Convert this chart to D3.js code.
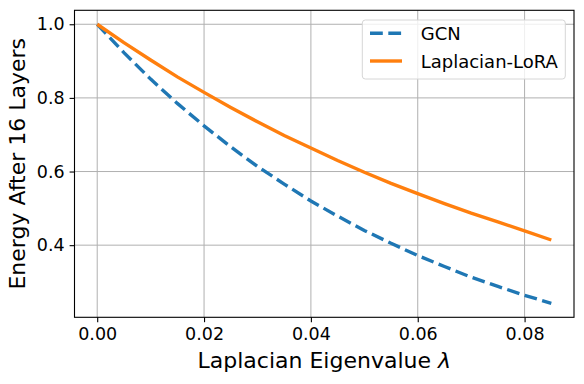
<!DOCTYPE html>
<html>
<head>
<meta charset="utf-8">
<script src="https://cdn.jsdelivr.net/npm/d3@7"></script>
<style>
  body { margin: 0; background: #fff; }
  svg { font-family: "DejaVu Sans", sans-serif; }
</style>
</head>
<body>
<div id="chart"></div>
<script>
// eigenvalue samples
const lambdas = [0, 0.005, 0.01, 0.015, 0.02, 0.025, 0.03, 0.035, 0.04, 0.045, 0.05, 0.055, 0.06, 0.065, 0.07, 0.075, 0.08, 0.085];
// energy after 16 layers
const gcnEnergy = [1.0, 0.923, 0.851, 0.785, 0.724, 0.667, 0.614, 0.566, 0.520, 0.479, 0.440, 0.405, 0.372, 0.342, 0.313, 0.288, 0.264, 0.242];
const loraEnergy = [1.0, 0.950, 0.903, 0.857, 0.815, 0.774, 0.735, 0.698, 0.664, 0.630, 0.598, 0.568, 0.540, 0.513, 0.487, 0.463, 0.439, 0.414];
const xTicks = [0, 0.02, 0.04, 0.06, 0.08];
const yTicks = [0.4, 0.6, 0.8, 1.0];
const seriesNames = ["GCN", "Laplacian-LoRA"];

const W = 584, H = 384;
const margin = { top: 10.3, right: 10, bottom: 66.7, left: 74.5 };
const width = W - margin.left - margin.right;
const height = H - margin.top - margin.bottom;

const svg = d3.select("#chart").append("svg")
  .attr("width", W)
  .attr("height", H);

const g = svg.append("g")
  .attr("transform", `translate(${margin.left},${margin.top})`);

const xPad = 0.085 * 0.05;
const yMin = d3.min(gcnEnergy), yMax = 1.0;
const yPad = (yMax - yMin) * 0.05;

const x = d3.scaleLinear()
  .domain([0 - xPad, 0.085 + xPad])
  .range([0, width]);

const y = d3.scaleLinear()
  .domain([yMin - yPad, yMax + yPad])
  .range([height, 0]);

// grid
g.append("g").selectAll("line").data(xTicks).join("line")
  .attr("x1", d => x(d)).attr("x2", d => x(d))
  .attr("y1", 0).attr("y2", height)
  .attr("stroke", "#b0b0b0").attr("stroke-width", 1);
g.append("g").selectAll("line").data(yTicks).join("line")
  .attr("x1", 0).attr("x2", width)
  .attr("y1", d => y(d)).attr("y2", d => y(d))
  .attr("stroke", "#b0b0b0").attr("stroke-width", 1);

const xAxis = d3.axisBottom(x)
  .tickValues(xTicks)
  .tickFormat(d3.format(".2f"))
  .tickSize(4.9)
  .tickPadding(4.9);
const yAxis = d3.axisLeft(y)
  .tickValues(yTicks)
  .tickFormat(d3.format(".1f"))
  .tickSize(4.9)
  .tickPadding(4.9);

const gx = g.append("g")
  .attr("transform", `translate(0,${height})`)
  .call(xAxis);
const gy = g.append("g").call(yAxis);

[gx, gy].forEach(a => {
  a.select(".domain").remove();
  a.selectAll("line").attr("stroke", "#000").attr("stroke-width", 1.1);
  a.selectAll("text").attr("font-size", 17.5).attr("fill", "#000")
    .attr("font-family", "DejaVu Sans");
});

const line = d3.line()
  .x((d, i) => x(lambdas[i]))
  .y(d => y(d));

g.append("path")
  .datum(gcnEnergy)
  .attr("fill", "none")
  .attr("stroke", "#1f77b4")
  .attr("stroke-width", 3.4)
  .attr("stroke-dasharray", "12.8 5.5")
  .attr("d", line);

g.append("path")
  .datum(loraEnergy)
  .attr("fill", "none")
  .attr("stroke", "#ff7f0e")
  .attr("stroke-width", 3.4)
  .attr("d", line);

// frame
g.append("rect")
  .attr("width", width).attr("height", height)
  .attr("fill", "none").attr("stroke", "#000").attr("stroke-width", 1.1);

// axis labels
svg.append("text")
  .attr("x", margin.left + width / 2)
  .attr("y", 367.7)
  .attr("text-anchor", "middle")
  .attr("font-size", 22)
  .html('Laplacian Eigenvalue <tspan font-style="italic">λ</tspan>');

svg.append("text")
  .attr("transform", `translate(25,${margin.top + height / 2}) rotate(-90)`)
  .attr("text-anchor", "middle")
  .attr("font-size", 22)
  .text("Energy After 16 Layers");

// legend
const legend = svg.append("g");
legend.append("rect")
  .attr("x", 362.3).attr("y", 20)
  .attr("width", 203).attr("height", 59)
  .attr("rx", 3)
  .attr("fill", "#fff").attr("fill-opacity", 0.8)
  .attr("stroke", "#d6d6d6").attr("stroke-width", 1);

const legendItems = [
  { name: seriesNames[0], color: "#1f77b4", dash: "12.8 5.5", y: 33.3 },
  { name: seriesNames[1], color: "#ff7f0e", dash: null, y: 61 }
];
legendItems.forEach(it => {
  legend.append("line")
    .attr("x1", 370).attr("x2", 402)
    .attr("y1", it.y).attr("y2", it.y)
    .attr("stroke", it.color).attr("stroke-width", 3.4)
    .attr("stroke-dasharray", it.dash);
  legend.append("text")
    .attr("x", 420.7).attr("y", it.y + 7)
    .attr("font-size", 18)
    .text(it.name);
});
</script>
</body>
</html>
